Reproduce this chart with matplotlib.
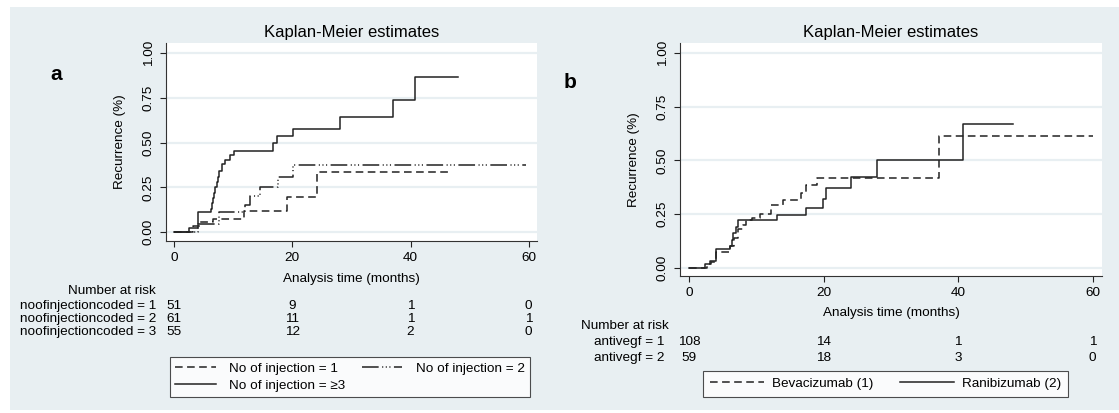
import matplotlib
matplotlib.use('Agg')
from matplotlib import pyplot as plt
from matplotlib.patches import Rectangle
from matplotlib.transforms import blended_transform_factory

plt.rcParams['font.family'] = ['Liberation Sans', 'DejaVu Sans']
plt.rcParams['lines.scale_dashes'] = False

# panel a: recurrence steps (time in months, cumulative recurrence)
inj1_t = [0, 3.2, 4.3, 6.5, 11.8, 19.1, 24.2, 46.4]
inj1_v = [0, .035, .055, .075, .118, .196, .333, .333]
inj2_t = [0, 4.1, 7.6, 12.0, 12.9, 14.5, 17.6, 20.1, 59.6]
inj2_v = [0, .045, .11, .15, .20, .25, .31, .375, .375]
inj3_t = [0, 2.6, 4.1, 6.2, 6.4, 6.6, 6.8, 7.0, 7.2, 7.4, 7.6, 8.1, 8.6, 9.5,
          10.2, 16.7, 17.4, 20.1, 28.0, 37.0, 40.8, 48.1]
inj3_v = [0, .02, .11, .13, .16, .19, .22, .25, .28, .31, .34, .38, .40, .43,
          .455, .495, .535, .575, .645, .735, .865, .865]

# panel b
beva_t = [0, 2.6, 3.3, 4.0, 6.1, 6.7, 7.3, 8.0, 8.5, 9.3, 10.5, 12.1, 14.0,
          16.6, 17.4, 19.0, 37.1, 60.0]
beva_v = [0, .017, .028, .072, .10, .14, .18, .20, .22, .23, .25, .29, .315,
          .35, .385, .42, .615, .615]
rani_t = [0, 2.3, 3.1, 4.0, 6.05, 6.3, 6.5, 6.9, 7.3, 13.0, 17.4, 19.9, 20.3,
          24.0, 27.9, 40.7, 48.1]
rani_v = [0, .017, .033, .087, .10, .13, .16, .19, .22, .247, .28, .32, .37,
          .423, .502, .669, .669]

# number at risk tables
risk_times = [0, 20, 40, 60]
risk_a_labels = ['noofinjectioncoded = 1', 'noofinjectioncoded = 2', 'noofinjectioncoded = 3']
risk_a = [[51, 9, 1, 0], [61, 11, 1, 1], [55, 12, 2, 0]]
risk_b_labels = ['antivegf = 1', 'antivegf = 2']
risk_b = [[108, 14, 1, 1], [59, 18, 3, 0]]

yticks = [0, 0.25, 0.5, 0.75, 1.0]
xticks = [0, 20, 40, 60]

W, H = 1119, 413
FS = 9.7
fig = plt.figure(figsize=(W / 100, H / 100), dpi=100)
fig.patch.set_facecolor('white')
fig.patches.append(Rectangle((10 / W, 3 / H), 1 - 10 / W, 1 - 10 / H,
                             transform=fig.transFigure, facecolor='#e8eff2',
                             edgecolor='none', zorder=-10))


def fy(py):
    return 1 - py / H


def setup(ax, ylim, ylab_x):
    ax.set_facecolor('white')
    ax.set_xlim(-1.37, 61.4)
    ax.set_ylim(*ylim)
    ax.set_xticks(xticks)
    ax.set_yticks(yticks)
    ax.set_yticklabels(['%.2f' % v for v in yticks], rotation=90, va='center')
    ax.tick_params(labelsize=FS, length=4, width=0.8, color='#222', pad=4)
    for s in ['top', 'right']:
        ax.spines[s].set_visible(False)
    for s in ['left', 'bottom']:
        ax.spines[s].set_color('#333')
        ax.spines[s].set_linewidth(0.8)
    ax.grid(axis='y', color='#e8eff2', lw=1.6)
    ax.set_axisbelow(True)
    ax.set_title('Kaplan-Meier estimates', fontsize=12, pad=4)
    ax.set_ylabel('Recurrence (%)', fontsize=FS)
    ax.yaxis.set_label_coords(ylab_x, 0.5)


lw = 1.1
dash = (0, (5.5, 3.2))
dashdot = (0, (12, 2.5, 0.8, 1.8, 0.8, 1.8, 0.8, 2.5))

# ---- panel a
axa = fig.add_axes([166 / W, fy(241), 371 / W, 198 / H])
setup(axa, (-0.05, 1.056), -0.108)
h1, = axa.step(inj1_t, inj1_v, where='post', color='#222', lw=lw, ls=dash)
h2, = axa.step(inj2_t, inj2_v, where='post', color='#222', lw=lw, ls=dashdot)
h3, = axa.step(inj3_t, inj3_v, where='post', color='#222', lw=lw, ls='-')
tra = blended_transform_factory(axa.transData, fig.transFigure)
trax = blended_transform_factory(axa.transAxes, fig.transFigure)
axa.text(0.5, fy(279), 'Analysis time (months)', transform=trax, ha='center', va='center', fontsize=FS)
fig.text(156 / W, fy(291), 'Number at risk', ha='right', va='center', fontsize=FS)
for i, (lab, row) in enumerate(zip(risk_a_labels, risk_a)):
    y = fy(306 + i * 12.8)
    fig.text(156 / W, y, lab, ha='right', va='center', fontsize=FS)
    for t, n in zip(risk_times, row):
        axa.text(t, y, str(n), transform=tra, ha='center', va='center', fontsize=FS)
leg = fig.legend([h1, h3, h2], ['No of injection = 1', 'No of injection = \u22653', 'No of injection = 2'],
                 ncol=2, loc='upper left', bbox_to_anchor=(170 / W, fy(357)), fontsize=FS,
                 frameon=True, fancybox=False, edgecolor='#222', handlelength=3.0,
                 handletextpad=1.0, columnspacing=1.2, borderpad=0.4, labelspacing=0.35,
                 borderaxespad=0)
leg.get_frame().set_linewidth(0.8)
fig.text(56 / W, fy(75), 'a', fontsize=15, fontweight='bold', ha='center', va='center')

# ---- panel b
axb = fig.add_axes([680 / W, fy(276), 422 / W, 233 / H])
setup(axb, (-0.039, 1.047), -0.095)
hb, = axb.step(beva_t, beva_v, where='post', color='#222', lw=lw, ls=dash)
hr, = axb.step(rani_t, rani_v, where='post', color='#222', lw=lw, ls='-')
trb = blended_transform_factory(axb.transData, fig.transFigure)
trbx = blended_transform_factory(axb.transAxes, fig.transFigure)
axb.text(0.5, fy(313), 'Analysis time (months)', transform=trbx, ha='center', va='center', fontsize=FS)
fig.text(669 / W, fy(326), 'Number at risk', ha='right', va='center', fontsize=FS)
for i, (lab, row) in enumerate(zip(risk_b_labels, risk_b)):
    y = fy(342 + i * 16)
    fig.text(664 / W, y, lab, ha='right', va='center', fontsize=FS)
    for t, n in zip(risk_times, row):
        axb.text(t, y, str(n), transform=trb, ha='center', va='center', fontsize=FS)
legb = fig.legend([hb, hr], ['Bevacizumab (1)', 'Ranibizumab (2)'],
                  ncol=2, loc='upper left', bbox_to_anchor=(703 / W, fy(371)), fontsize=FS,
                  frameon=True, fancybox=False, edgecolor='#222', handlelength=4.0,
                  handletextpad=0.6, columnspacing=2.0, borderpad=0.5, borderaxespad=0)
legb.get_frame().set_linewidth(0.8)
fig.text(570 / W, fy(82), 'b', fontsize=15, fontweight='bold', ha='center', va='center')

fig.savefig('out.png', dpi=100, facecolor='white')
